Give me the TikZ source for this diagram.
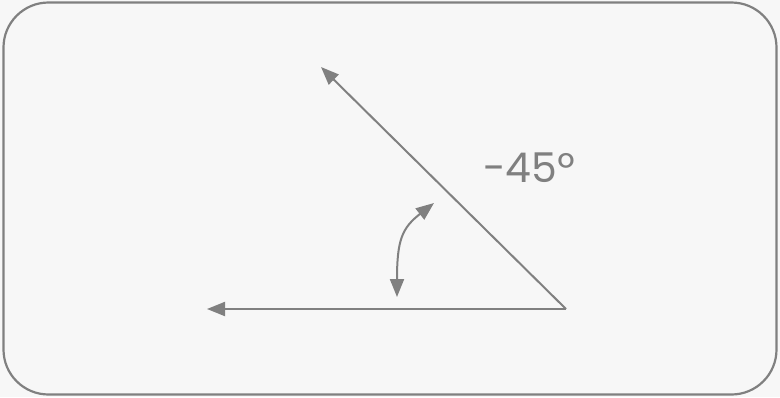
\documentclass[tikz,border=0pt]{standalone}
\usepackage{fontspec}
\setmainfont{Poppins}
\usetikzlibrary{arrows.meta}
\definecolor{linegray}{HTML}{808080}
\definecolor{bggray}{HTML}{F7F7F7}
\tikzset{
  tip/.style={Triangle[length=18pt,width=14pt]},
  ray/.style={draw=linegray, line width=2pt, -{Triangle[length=18pt,width=14pt]}},
  angarrow/.style={draw=linegray, line width=2pt, {Triangle[length=18pt,width=14pt]}-{Triangle[length=18pt,width=14pt]}},
  frame/.style={draw=linegray, line width=2.2pt, rounded corners=45pt, fill=bggray},
  lbl/.style={text=linegray, font=\fontsize{41}{41}\selectfont, inner sep=0pt}
}
\begin{document}
\begin{tikzpicture}[x=1pt,y=-1pt]
  \fill[bggray] (0,0) rectangle (780,397);
  \useasboundingbox (0,0) rectangle (780,397);
  \draw[frame] (3.5,2.5) rectangle (776.5,394.5);
  \coordinate (O) at (566,309);
  \coordinate (A) at (207,309);
  \coordinate (B) at (321,67);
  \coordinate (P) at (397,297);
  \coordinate (Q) at (434,203);
  \draw[ray] (O) -- (A);
  \draw[ray] (O) -- (B);
  \draw[angarrow] (P) .. controls (397,240) and (402,228) .. (Q);
  \node[lbl] (L) at (529,168) {-45º};
\end{tikzpicture}
\end{document}
